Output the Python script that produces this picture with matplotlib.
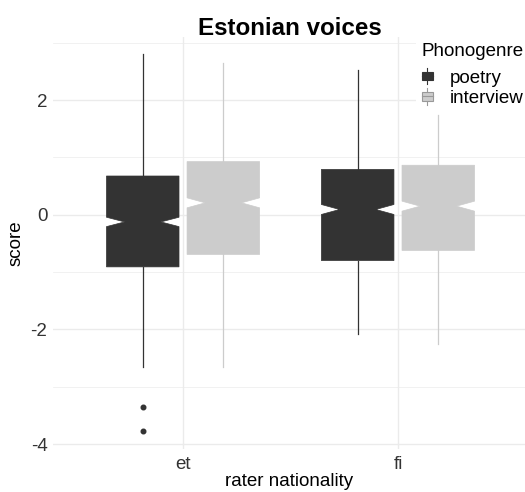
import numpy as np
import matplotlib.pyplot as plt
from matplotlib.patches import Patch, Rectangle
from matplotlib.lines import Line2D
from matplotlib.legend_handler import HandlerBase

plt.rcParams['font.family'] = ['Liberation Sans', 'DejaVu Sans']
plt.rcParams['axes.unicode_minus'] = False

# data: index [genre][nationality]
nationality = ['et', 'fi']
genres = ['poetry', 'interview']
fills = ['#333333', '#cccccc']
key_edges = ['#333333', '#999999']

median = [[-0.126, 0.091], [0.207, 0.149]]
q1 = [[-0.91, -0.80], [-0.693, -0.623]]
q3 = [[0.675, 0.79], [0.926, 0.863]]
whis_lo = [[-2.66, -2.085], [-2.66, -2.25]]
whis_hi = [[2.80, 2.52], [2.64, 1.745]]
notch_half = [[0.082, 0.087], [0.087, 0.087]]
outliers = [[[-3.35, -3.78], []], [[], []]]


class BoxKey(HandlerBase):
    # small boxplot glyph like ggplot's legend key
    def create_artists(self, legend, orig_handle, xdescent, ydescent,
                       width, height, fontsize, trans):
        fc = orig_handle.get_facecolor()
        ec = orig_handle.get_edgecolor()
        x0, y0 = -xdescent, -ydescent
        cx = x0 + width / 2
        wl = Line2D([cx, cx], [y0 - 0.1 * height, y0 + 1.1 * height],
                    color=ec, lw=0.8, transform=trans)
        box = Rectangle((x0, y0 + 0.2 * height), width, 0.6 * height,
                        facecolor=fc, edgecolor=ec, lw=0.8, transform=trans)
        med = Line2D([x0, x0 + width], [y0 + 0.5 * height] * 2,
                     color=ec, lw=0.8, transform=trans)
        return [wl, box, med]


fig = plt.figure(figsize=(5.25, 4.92), dpi=100)
ax = fig.add_axes([53 / 525, 1 - 449 / 492, 472 / 525, (449 - 36.7) / 492])

for g in range(len(genres)):
    stats = []
    for n in range(len(nationality)):
        m = median[g][n]
        stats.append(dict(med=m, q1=q1[g][n], q3=q3[g][n],
                          whislo=whis_lo[g][n], whishi=whis_hi[g][n],
                          fliers=np.array(outliers[g][n]),
                          cilo=m - notch_half[g][n], cihi=m + notch_half[g][n]))
    pos = np.arange(1, len(nationality) + 1) + (g - 0.5) * 0.375
    ax.bxp(stats, positions=pos, widths=0.3375, patch_artist=True,
           shownotches=True, showcaps=False, manage_ticks=False,
           boxprops=dict(facecolor=fills[g], edgecolor=fills[g], linewidth=0.5),
           whiskerprops=dict(color=fills[g], linewidth=0.9),
           medianprops=dict(color=fills[g], linewidth=0.5),
           flierprops=dict(marker='o', markerfacecolor=fills[g],
                           markeredgecolor=fills[g], markersize=3.3),
           zorder=2)

ax.set_xlim(0.395, 2.591)
ax.set_ylim(-4.087, 3.105)
ax.set_xticks([1, 2], nationality)
ax.set_yticks([-4, -2, 0, 2])
ax.set_yticks([-3, -1, 1, 3], minor=True)
ax.grid(which='major', color='#ebebeb', lw=1.0, zorder=0)
ax.grid(which='minor', axis='y', color='#ebebeb', lw=0.5, zorder=0)
ax.set_axisbelow(True)
for s in ax.spines.values():
    s.set_visible(False)
ax.tick_params(which='both', length=0, labelsize=13.5, labelcolor='#333333')
ax.tick_params(axis='x', pad=5)
ax.tick_params(axis='y', pad=4)
ax.set_xlabel('rater nationality', fontsize=13.5, labelpad=0)
ax.set_ylabel('score', fontsize=13.5, labelpad=4)

fig.text(290 / 525, 1 - 35 / 492, 'Estonian voices', ha='center', va='baseline',
         fontsize=17.4, fontweight='bold')

handles = [Patch(facecolor=fills[g], edgecolor=key_edges[g]) for g in range(len(genres))]
leg = ax.legend(handles, genres, title='Phonogenre', loc='upper left',
                bbox_to_anchor=(416 / 525, 1 - 37 / 492), bbox_transform=fig.transFigure,
                borderaxespad=0, fontsize=13.5, title_fontsize=13.5, alignment='left',
                handler_map={Patch: BoxKey()}, handlelength=0.6, handleheight=0.75,
                handletextpad=0.9, labelspacing=0.15, borderpad=0.3,
                frameon=True, fancybox=False, framealpha=1, edgecolor='none')
leg.get_frame().set_facecolor('white')
leg._legend_box.sep = 7
leg.set_zorder(5)

fig.savefig('out.png', dpi=100)
